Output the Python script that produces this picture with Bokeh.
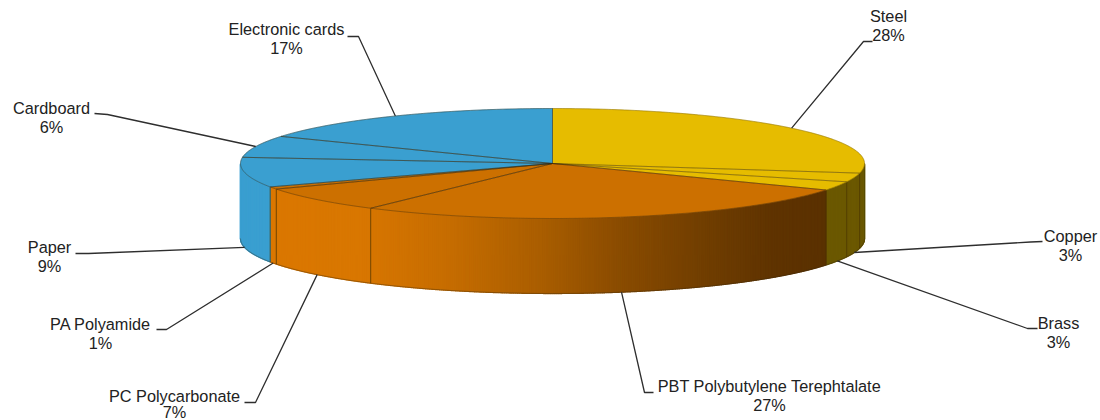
import numpy as np
from bokeh.plotting import figure
from bokeh.models import ColumnDataSource
from bokeh.core.properties import value
from bokeh.embed import file_html
from bokeh.resources import INLINE

categories = ["Steel", "Copper", "Brass", "PBT Polybutylene Terephtalate", "PC Polycarbonate",
              "PA Polyamide", "Paper", "Cardboard", "Electronic cards"]
shares = [27.8, 2.6, 2.6, 26.9, 7.4, 0.7, 8.8, 6.4, 16.8]
pct_labels = ["28%", "3%", "3%", "27%", "7%", "1%", "9%", "6%", "17%"]
top_colors = ["#E6BC00", "#E6BC00", "#E6BC00", "#CC7000", "#CC7000", "#CC7000", "#3A9FD0", "#3A9FD0", "#3A9FD0"]

# layout (reference pixels)
CX, CY, RX, RY, DEPTH = 552.0, 163.0, 312.0, 55.0, 75.0
label_x = [888, 1070, 1058, 769, 174, 100, 49, 51, 286]
label_y = [15, 235, 322, 385, 395, 323, 246, 107, 28]
pct_y = [34, 254, 341, 404, 411, 342, 265, 126, 47]
elbow_a = [(863, 41), (1030, 241.5), (1027, 328), (644, 392), (255, 402), (166, 329), (88, 253), (107, 114), (358, 36)]
elbow_b = [(872, 41), (1042, 241), (1037, 328), (653, 392), (244, 402), (156, 329), (75, 253), (94, 113), (347, 36)]

edges = np.concatenate([[0.0], np.cumsum(shares)]) / sum(shares) * 360.0


def ex(t):
    return CX + RX * np.sin(np.radians(t))


def ey(t):
    return CY - RY * np.cos(np.radians(t))


def lerp_hex(stops, x):
    xs = [s[0] for s in stops]
    r = np.interp(x, xs, [s[1][0] for s in stops])
    g = np.interp(x, xs, [s[1][1] for s in stops])
    b = np.interp(x, xs, [s[1][2] for s in stops])
    return "#%02x%02x%02x" % (int(r), int(g), int(b))


orange_stops = [(268, (219, 120, 0)), (360, (217, 119, 0)), (450, (198, 109, 0)), (540, (170, 94, 0)),
                (620, (138, 76, 0)), (700, (114, 63, 0)), (770, (96, 52, 0)), (830, (90, 49, 0))]

p = figure(width=1100, height=420, x_range=(0, 1100), y_range=(420, 0), toolbar_location=None,
           output_backend="svg", min_border=0, outline_line_color=None, background_fill_color="white")
p.axis.visible = False
p.grid.visible = False

# side wall, split finely so that the lighting gradient can be shown
xs, ys, cols = [], [], []
for i in range(len(shares)):
    a0, a1 = max(edges[i], 90.0), min(edges[i + 1], 270.0)
    if a1 <= a0:
        continue
    n = max(2, int((a1 - a0) * 2.5))
    ts = np.linspace(a0, a1, n + 1)
    for t0, t1 in zip(ts[:-1], ts[1:]):
        sub = np.linspace(t0, t1, 4)
        px = np.concatenate([ex(sub), ex(sub)[::-1]])
        py = np.concatenate([ey(sub), ey(sub)[::-1] + DEPTH])
        xs.append(px.tolist())
        ys.append(py.tolist())
        if i <= 2:
            cols.append("#6B5800")
        elif i <= 5:
            cols.append(lerp_hex(orange_stops, ex((t0 + t1) / 2)))
        else:
            cols.append("#3A9FD0")
p.patches(xs, ys, fill_color=cols, line_color=cols, line_width=1.3)

# side wall boundaries
for e in edges[1:7]:
    p.line([ex(e), ex(e)], [ey(e), ey(e) + DEPTH], line_color="#4a3300", line_width=0.9, line_alpha=0.8)
p.line([ex(90.0)] * 2, [ey(90.0), ey(90.0) + DEPTH], line_color="#4a4000", line_width=0.8, line_alpha=0.7)
arc = np.linspace(90, 270, 181)
p.line(ex(arc), ey(arc) + DEPTH, line_color="#3a2a10", line_width=0.8, line_alpha=0.5)

# top face
for i in range(len(shares)):
    ts = np.linspace(edges[i], edges[i + 1], max(3, int(shares[i] * 6)))
    px = [CX] + ex(ts).tolist()
    py = [CY] + ey(ts).tolist()
    p.patch(px, py, fill_color=top_colors[i], line_color=top_colors[i], line_width=0.5)
for i in range(len(shares)):
    ts = np.linspace(edges[i], edges[i + 1], max(3, int(shares[i] * 6)))
    px = [CX] + ex(ts).tolist() + [CX]
    py = [CY] + ey(ts).tolist() + [CY]
    p.line(px, py, line_color="#3b2d10", line_width=0.8, line_alpha=0.35 if i <= 2 else 0.5)

# leader lines
for i in range(len(shares)):
    mid = (edges[i] + edges[i + 1]) / 2
    y0 = ey(mid) + (DEPTH if 90 < mid < 270 else 0)
    p.line([ex(mid), elbow_a[i][0], elbow_b[i][0]], [y0, elbow_a[i][1], elbow_b[i][1]],
           line_color="#2e2e2e", line_width=1.3)

src_name = ColumnDataSource(dict(x=label_x, y=label_y, t=categories))
src_pct = ColumnDataSource(dict(x=label_x, y=pct_y, t=pct_labels))
for s in (src_name, src_pct):
    p.text("x", "y", "t", source=s, text_font=value("Liberation Sans"), text_font_size="16.3px",
           text_color="#222222", text_align="center", text_baseline="middle")

open("out.html", "w").write(file_html(p, INLINE))
